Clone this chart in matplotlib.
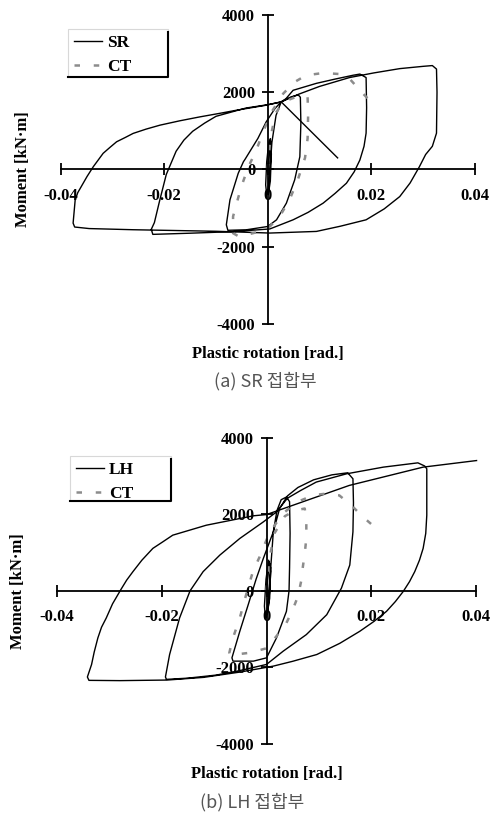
import matplotlib.pyplot as plt
from matplotlib.patches import Rectangle

plt.rcParams['font.family'] = ['Liberation Serif', 'DejaVu Serif']

# tick labels
x_ticks = [-0.04, -0.02, 0.0, 0.02, 0.04]
x_tick_labels = ['-0.04', '-0.02', '0', '0.02', '0.04']
y_ticks = [-4000, -2000, 0, 2000, 4000]
y_tick_labels = ['-4000', '-2000', '0', '2000', '4000']

# (a) SR joint
sr_x = [0, 0.0003, 0.0005, 0.0006, 0.0004, 0.0001, -0.0002, -0.0004, -0.0002, 0.0002, 0.0005,
        0.0007, 0.0005, 0.0001, 0.0008, 0.0016, 0.0026, 0.0045, 0.0059, 0.0063, 0.0064, 0.0062,
        0.0052, 0.0036, 0.0017, 0.0, -0.0041, -0.0077, -0.008, -0.0073, -0.0057, -0.0047, -0.0044,
        -0.0019, -0.0003, 0.0014, 0.0026, 0.0035, 0.0049, 0.0094, 0.013, 0.0165, 0.0178, 0.019,
        0.0191, 0.019, 0.0186, 0.0178, 0.0167, 0.0152, 0.013, 0.0107, 0.0078, 0.0049, 0.0004,
        -0.0068, -0.015, -0.0222, -0.0225, -0.0219, -0.0209, -0.0196, -0.0177, -0.0162, -0.0145,
        -0.0122, -0.01, -0.0042, 0.0, 0.0026, 0.006, 0.01, 0.0158, 0.0205, 0.0255, 0.03, 0.0318,
        0.0326, 0.0327, 0.0326, 0.0318, 0.0305, 0.0293, 0.0275, 0.0255, 0.0225, 0.019, 0.014,
        0.0094, 0.0004, -0.01, -0.026, -0.0345, -0.0373, -0.0376, -0.0372, -0.0367, -0.0349,
        -0.0337, -0.0318, -0.0305, -0.0292, -0.0275, -0.026, -0.0235, -0.0208, -0.017, -0.0131,
        -0.009, -0.006, -0.0003, 0.0026]
sr_y = [0, 400, 760, 500, 0, -500, -640, -400, 200, 700, 800,
        400, -300, -650, 700, 1400, 1750, 1880, 1930, 1870, 1200, 330,
        -271, -872, -1303, -1476, -1561, -1575, -1432, -787, -98, 200, 260,
        805, 1233, 1579, 1750, 1830, 2050, 2230, 2340, 2440, 2470, 2380,
        1600, 940, 600, 245, -60, -356, -620, -872, -1110, -1303, -1540,
        -1610, -1650, -1680, -1550, -1376, -817, -129, 473, 760, 989,
        1200, 1376, 1591, 1677, 1750, 1950, 2150, 2380, 2500, 2611, 2670, 2690,
        2600, 2000, 940, 600, 387, 72, -350, -702, -1020, -1303, -1470,
        -1604, -1646, -1600, -1560, -1530, -1490, -1389, -787, -600, -180,
        72, 418, 570, 717, 830, 934, 1045, 1148, 1260, 1362,
        1460, 1535, 1664, 1750]
sr_tail_x = [0.0026, 0.0135]
sr_tail_y = [1750, 300]

ct_a_x = [0, 0.0005, 0.0015, 0.003, 0.0055, 0.0077, 0.0078, 0.0077, 0.0072, 0.0058, 0.0042,
          0.0023, 0.0004, -0.002, -0.0055, -0.0067, -0.0067, -0.006, -0.0051, -0.0038, -0.0022,
          -0.0009, 0.0008, 0.003, 0.0052, 0.0074, 0.0107, 0.014, 0.016, 0.0184, 0.0206]
ct_a_y = [0, 800, 1450, 1750, 1880, 1880, 1400, 800, 300, -271, -787,
          -1218, -1476, -1620, -1740, -1650, -1218, -872, -444, 50, 503,
          975, 1500, 1966, 2265, 2438, 2498, 2470, 2320, 1966, 1660]

# (b) LH joint
lh_x = [0, 0.0003, 0.0005, 0.0008, 0.0006, 0.0003, -0.0002, -0.0004, -0.0001, 0.0004, 0.0008,
        0.0006, 0.0, 0.0008, 0.0013, 0.002, 0.0028, 0.0038, 0.0044, 0.0045, 0.0044, 0.0043,
        0.0038, 0.0019, 0.0, -0.0025, -0.0064, -0.0066, -0.0051, -0.0035, -0.002, -0.0006,
        0.0013, 0.0025, 0.004, 0.006, 0.009, 0.0125, 0.0155, 0.0165, 0.0166, 0.0165, 0.0159,
        0.0143, 0.0115, 0.0076, 0.0032, 0.0, -0.005, -0.0096, -0.015, -0.0191, -0.0193, -0.0185,
        -0.0166, -0.0146, -0.0121, -0.0089, -0.0051, -0.0006, 0.0019, 0.004, 0.0065, 0.0095,
        0.0153, 0.0223, 0.0289, 0.0302, 0.0306, 0.0306, 0.0304, 0.0299, 0.0292, 0.0283, 0.0273,
        0.0261, 0.0246, 0.0229, 0.0205, 0.0178, 0.014, 0.0096, 0.005, 0.0013, -0.005, -0.012,
        -0.019, -0.028, -0.0339, -0.0342, -0.0334, -0.0329, -0.0322, -0.0315, -0.0306, -0.0294,
        -0.0278, -0.0267, -0.0255, -0.0238, -0.0217, -0.0198, -0.0179, -0.0115, -0.0025, 0.0]
lh_y = [0, 400, 760, 500, 0, -500, -700, -400, 300, 800, 600,
        -200, -700, 600, 1542, 2100, 2380, 2450, 2330, 1500, 600, 0,
        -537, -1230, -1750, -1836, -1836, -1750, -1057, -364, 300, 849,
        1542, 2150, 2480, 2700, 2900, 3030, 3083, 2927, 2300, 1542, 675,
        70, -623, -1143, -1574, -1922, -2080, -2200, -2280, -2312, -2250, -1662,
        -709, 0, 502, 935, 1368, 1801, 2060, 2420, 2620, 2841,
        3057, 3231, 3343, 3260, 3187, 1975, 1500, 1108, 800, 502, 240,
        -17, -280, -537, -800, -1057, -1370, -1663, -1840, -1966, -2120, -2260,
        -2330, -2345, -2338, -2250, -1923, -1600, -1230, -950, -710, -340,
        35, 280, 502, 800, 1109, 1280, 1454, 1714, 1960, 1992]
lh_tail_x = [0.0, 0.005, 0.0158, 0.0299, 0.0401]
lh_tail_y = [1992, 2233, 2753, 3231, 3403]

ct_b_x = [0, 0.0005, 0.0015, 0.0035, 0.0055, 0.0073, 0.0076, 0.0076, 0.0073, 0.0069, 0.0066,
          0.006, 0.005, 0.0038, 0.0019, 0.0, -0.0032, -0.007, -0.0071, -0.0064, -0.0051,
          -0.0039, -0.0026, -0.0013, 0.0005, 0.0031, 0.006, 0.009, 0.0115, 0.0139, 0.0162,
          0.0184, 0.0206]
ct_b_y = [0, 800, 1500, 1950, 2100, 2150, 1758, 1368, 979, 589, 244,
          -145, -493, -839, -1184, -1500, -1618, -1680, -1618, -1228, -709,
          -104, 504, 893, 1500, 2018, 2330, 2500, 2540, 2493, 2233,
          1932, 1672]

ct_style = dict(color='#8c8c8c', lw=1.8, linestyle=(0, (2.2, 5.5)))


def style_axes(ax, ylab_x):
    for side in ['top', 'right']:
        ax.spines[side].set_visible(False)
    ax.spines['left'].set_position('zero')
    ax.spines['bottom'].set_position('zero')
    ax.spines['left'].set_linewidth(1.3)
    ax.spines['bottom'].set_linewidth(1.3)
    ax.set_xlim(-0.04, 0.04)
    ax.set_ylim(-4000, 4000)
    ax.set_xticks(x_ticks)
    ax.set_xticklabels(x_tick_labels)
    ax.set_yticks(y_ticks)
    ax.set_yticklabels(y_tick_labels)
    ax.tick_params(axis='x', direction='inout', length=8, width=1.3, pad=9, labelsize=12)
    ax.tick_params(axis='y', direction='inout', length=8, width=1.3, pad=5, labelsize=12)
    for t in ax.get_xticklabels() + ax.get_yticklabels():
        t.set_fontweight('bold')
    ax.set_xlabel('Plastic rotation [rad.]', fontsize=12, fontweight='bold')
    ax.set_ylabel('Moment [kN\u00b7m]', fontsize=12, fontweight='bold')
    ax.xaxis.set_label_coords(0.5, -0.072)
    ax.yaxis.set_label_coords(ylab_x, 0.5)
    ax.patch.set_alpha(0)


def add_legend(ax, x0, x1, y0, y1):
    # box: faint top/left, dark right/bottom
    ax.add_patch(Rectangle((x0, y0), x1 - x0, y1 - y0, transform=ax.transAxes,
                           facecolor='white', edgecolor='#d8d8d8', lw=0.8, zorder=5))
    ax.plot([x1, x1, x0], [y1 - 0.01, y0, y0], transform=ax.transAxes, color='black',
            lw=1.5, zorder=6, clip_on=False)
    ax.legend(loc='upper left', bbox_to_anchor=(x0, y1), borderaxespad=0, frameon=False,
              handlelength=1.6, handletextpad=0.3, labelspacing=0.45, borderpad=0.35,
              prop={'family': 'Liberation Serif', 'weight': 'bold', 'size': 12.5}).set_zorder(7)


fig = plt.figure(figsize=(4.91, 8.14), dpi=100)
ax1 = fig.add_axes([0.1236, 0.602, 0.8434, 0.3796])
ax2 = fig.add_axes([0.1161, 0.0860, 0.8534, 0.3763])

ax1.plot(sr_x, sr_y, color='black', lw=1.0, label='SR')
ax1.plot(sr_tail_x, sr_tail_y, color='black', lw=1.0)
ax1.plot(ct_a_x, ct_a_y, label='CT', **ct_style)
style_axes(ax1, -0.072)
add_legend(ax1, 0.0176, 0.259, 0.799, 0.955)

ax2.plot(lh_x, lh_y, color='black', lw=1.0, label='LH')
ax2.plot(lh_tail_x, lh_tail_y, color='black', lw=1.0, clip_on=False)
ax2.plot(ct_b_x, ct_b_y, label='CT', **ct_style)
style_axes(ax2, -0.074)
add_legend(ax2, 0.031, 0.271, 0.793, 0.94)

fig.text(0.54, 0.532, '(a) SR 접합부', ha='center', va='center', fontsize=13,
         color='#555555', family=['Noto Sans CJK KR', 'DejaVu Sans'])
fig.text(0.513, 0.015, '(b) LH 접합부', ha='center', va='center', fontsize=13,
         color='#555555', family=['Noto Sans CJK KR', 'DejaVu Sans'])

fig.savefig('out.png', dpi=100)
